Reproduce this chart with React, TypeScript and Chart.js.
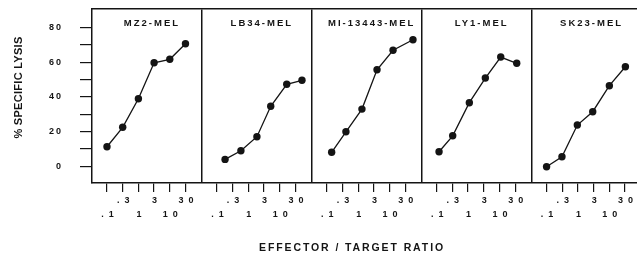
import { useEffect, useRef } from "react";
import { Chart, registerables } from "chart.js";

Chart.register(...registerables);

// ---- data ----
const cellLines = ["MZ2-MEL", "LB34-MEL", "MI-13443-MEL", "LY1-MEL", "SK23-MEL"];
const ratioLabels = [".1", ".3", "1", "3", "10", "30"];
const yTickValues = [0, 10, 20, 30, 40, 50, 60, 70, 80];
const yTitle = "% SPECIFIC LYSIS";
const xTitle = "EFFECTOR / TARGET RATIO";

// x positions in ratio-tick units (0 = .1 ... 5 = 30), as plotted in each panel
const mz2X = [0, 1, 2, 3, 4, 5];
const mz2Y = [11.3, 22.5, 39.0, 59.7, 61.7, 70.7];
const lb34X = [0.52, 1.53, 2.55, 3.43, 4.45, 5.42];
const lb34Y = [4.0, 9.0, 17.1, 34.6, 47.3, 49.6];
const mi13443X = [0.31, 1.22, 2.24, 3.2, 4.22, 5.49];
const mi13443Y = [8.1, 19.9, 33.0, 55.7, 66.9, 73.0];
const ly1X = [0.15, 1.02, 2.08, 3.1, 4.08, 5.1];
const ly1Y = [8.4, 17.6, 36.7, 50.9, 63.0, 59.4];
const sk23X = [0, 0.98, 1.96, 2.94, 4.0, 5.02];
const sk23Y = [-0.2, 5.5, 23.8, 31.5, 46.5, 57.4];

const seriesX = [mz2X, lb34X, mi13443X, ly1X, sk23X];
const seriesY = [mz2Y, lb34Y, mi13443Y, ly1Y, sk23Y];

// ---- layout / style ----
const PANEL = 7;
const X_MIN = -0.955;
const X_MAX = 33.76;
const Y_MIN = -9.6;
const Y_MAX = 90.7;
const INK = "#141414";
const FAMILY = "'Liberation Sans', Arial, Helvetica, sans-serif";

const spacingPlugin = {
  id: "labelSpacing",
  beforeDraw(chart: any) {
    const sp: Record<string, string> = { x: "5px", y: "2px" };
    for (const id of Object.keys(sp)) {
      const s: any = chart.scales[id];
      if (s && !s.__wrapped) {
        const orig = s.drawLabels.bind(s);
        s.drawLabels = (area: any) => {
          const ctx: any = s.ctx;
          ctx.save();
          ctx.letterSpacing = sp[id];
          orig(area);
          ctx.restore();
        };
        s.__wrapped = true;
      }
    }
  },
};

const textPlugin = {
  id: "panelTexts",
  afterDraw(chart: any) {
    const ctx: any = chart.ctx;
    const xs = chart.scales.x;
    ctx.save();
    ctx.fillStyle = INK;
    ctx.textAlign = "center";
    ctx.textBaseline = "middle";
    ctx.font = `bold 9.5px ${FAMILY}`;
    ctx.letterSpacing = "2px";
    cellLines.forEach((name, k) => {
      ctx.fillText(name, xs.getPixelForValue(k * PANEL + 2.8) + 1, 23);
    });
    ctx.font = `bold 10.5px ${FAMILY}`;
    ctx.letterSpacing = "1.9px";
    ctx.fillText(xTitle, 352, 248);
    ctx.translate(19, 87.5);
    ctx.rotate(-Math.PI / 2);
    ctx.font = `bold 11px ${FAMILY}`;
    ctx.letterSpacing = "0.3px";
    ctx.fillText(yTitle, 0, 0);
    ctx.restore();
  },
};

export default function App() {
  const ref = useRef<HTMLCanvasElement>(null);

  useEffect(() => {
    if (!ref.current) return;
    const datasets = seriesX.map((xs, k) => ({
      label: cellLines[k],
      data: xs.map((x, i) => ({ x: k * PANEL + x, y: seriesY[k][i] })),
      showLine: true,
      borderColor: INK,
      backgroundColor: INK,
      pointBackgroundColor: INK,
      pointBorderColor: INK,
      pointRadius: 3.7,
      pointBorderWidth: 0,
      borderWidth: 1.3,
      tension: 0,
    }));

    const chart = new Chart(ref.current, {
      type: "scatter",
      data: { datasets },
      options: {
        animation: false,
        responsive: false,
        maintainAspectRatio: false,
        layout: { autoPadding: false, padding: { top: 9, right: 0, bottom: 0, left: 0 } },
        plugins: { legend: { display: false }, tooltip: { enabled: false } },
        scales: {
          x: {
            type: "linear",
            position: "bottom",
            min: X_MIN,
            max: X_MAX,
            afterBuildTicks: (s: any) => {
              const t: any[] = [];
              for (let k = 0; k < cellLines.length; k++)
                for (let i = 0; i < ratioLabels.length; i++) t.push({ value: k * PANEL + i });
              s.ticks = t;
            },
            afterFit: (s: any) => {
              s.height = 72;
              s.paddingLeft = 0;
              s.paddingRight = 0;
            },
            ticks: {
              autoSkip: false,
              maxRotation: 0,
              minRotation: 0,
              padding: 2,
              labelOffset: 3,
              color: INK,
              font: { family: FAMILY, size: 9, weight: "bold", lineHeight: 1.55 },
              callback: (v: any) => {
                const k = Math.floor((v + 0.5) / PANEL);
                const i = Math.round(v - k * PANEL);
                const lab = ratioLabels[i];
                return i % 2 === 0 ? ["", lab] : lab;
              },
            },
            grid: { drawOnChartArea: false, drawTicks: true, tickLength: 9, color: INK, lineWidth: 1.2 },
            border: { display: true, color: INK, width: 1.5 },
          },
          x2: {
            type: "linear",
            position: "top",
            min: X_MIN,
            max: X_MAX,
            afterBuildTicks: (s: any) => {
              s.ticks = [1, 2, 3, 4].map((k) => ({ value: X_MIN + k * PANEL }));
            },
            afterFit: (s: any) => {
              s.height = 0;
            },
            ticks: { display: false },
            grid: { drawOnChartArea: true, drawTicks: false, color: INK, lineWidth: 1.5 },
            border: { display: true, color: INK, width: 1.5 },
          },
          y: {
            type: "linear",
            min: Y_MIN,
            max: Y_MAX,
            afterBuildTicks: (s: any) => {
              s.ticks = yTickValues.map((v) => ({ value: v }));
            },
            afterFit: (s: any) => {
              s.width = 92;
              s.paddingTop = 0;
              s.paddingBottom = 0;
            },
            ticks: {
              padding: 17,
              color: INK,
              font: { family: FAMILY, size: 9, weight: "bold" },
              callback: (v: any) => (v % 20 === 0 ? String(v) : ""),
            },
            grid: { drawOnChartArea: false, drawTicks: true, tickLength: 12, color: INK, lineWidth: 1.2 },
            border: { display: true, color: INK, width: 1.5 },
          },
        },
      },
      plugins: [spacingPlugin, textPlugin],
    } as any);
    return () => chart.destroy();
  }, []);

  return (
    <div style={{ position: "absolute", left: 0, top: 0, width: 637, height: 255, background: "#fff" }}>
      <canvas ref={ref} width={637} height={255} style={{ display: "block", width: 637, height: 255 }} />
    </div>
  );
}
